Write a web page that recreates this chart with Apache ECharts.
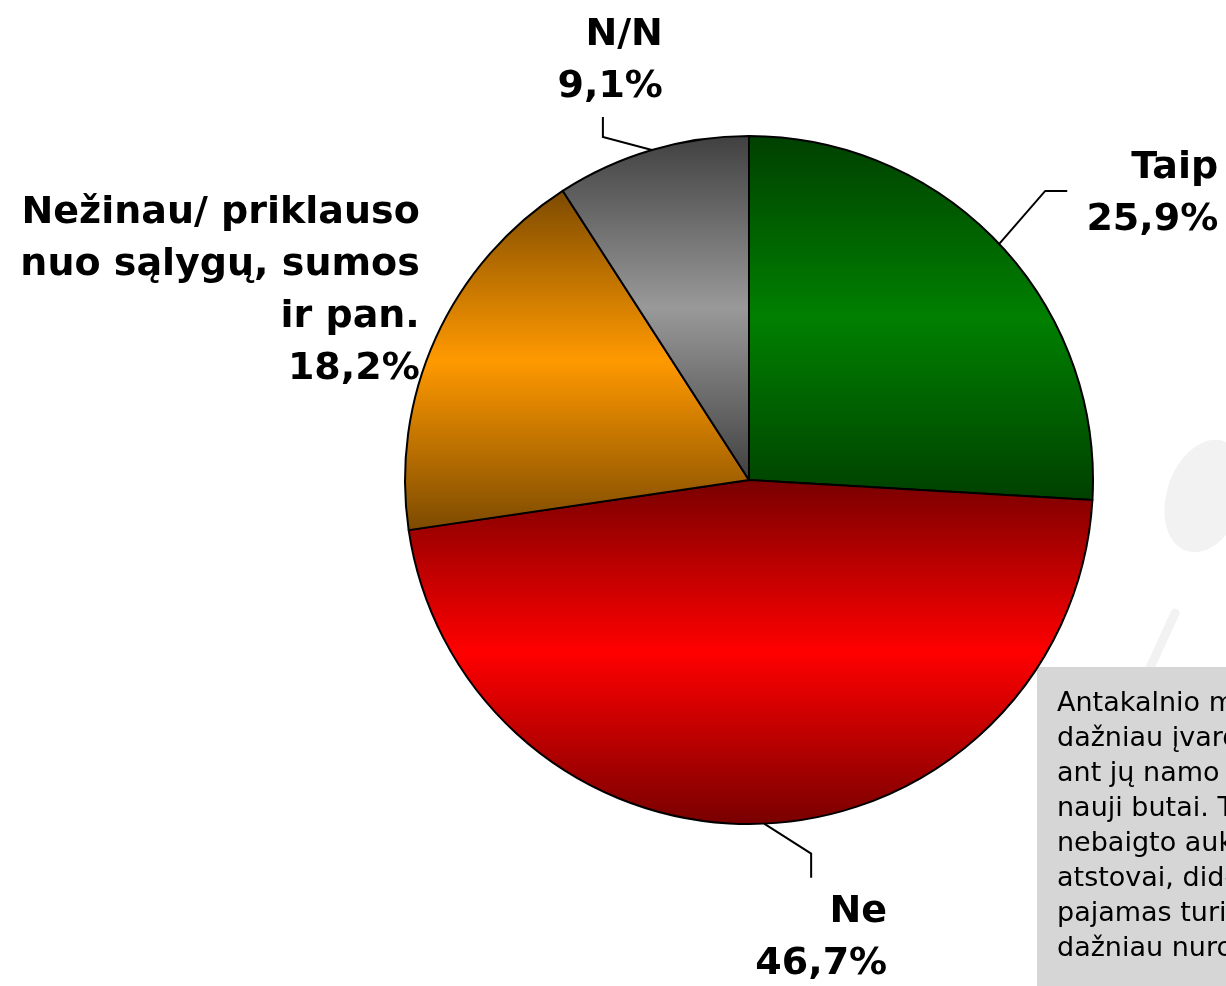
<!DOCTYPE html>
<html>
<head>
<meta charset="utf-8">
<title>Pie</title>
<script src="https://cdn.jsdelivr.net/npm/echarts@6/dist/echarts.min.js"></script>
<style>
  html, body { margin: 0; padding: 0; background: #fff; overflow: hidden; }
  #chart { width: 1226px; height: 986px; }
</style>
</head>
<body>
<div id="chart"></div>
<script>
// atsakymai ir procentai
const categories = ['Taip', 'Ne', 'Nežinau/ priklauso\nnuo sąlygų, sumos\nir pan.', 'N/N']
const percents = [25.9, 46.7, 18.2, 9.1]

// gradiento spalvos: kraštas / vidurys
const sliceColors = [
  ['#004000', '#008000'],
  ['#780000', '#ff0000'],
  ['#7c4a00', '#ff9900'],
  ['#404040', '#999999'],
]

// etikečių vieta nuo linijos pradžios ant apskritimo krašto (viršutinis kraštas)
const labelPlace = [
  { dx: 219, dy: -102, line: [[46, -53], [68, -53]] },
  { dx: 123, dy: 62, line: [[47, 30], [47, 54]] },
  { dx: -16, dy: -151, line: null },
  { dx: 11, dy: -141, line: [[-49, -13], [-49, -33]] },
]

// komentaro tekstas (nukirstas dešiniajame krašte)
const noteLines = [
  'Antakalnio mikrorajono',
  'dažniau įvardijo, kad',
  'ant jų namo',
  'nauji butai. Tai',
  'nebaigto aukštojo',
  'atstovai, didesnes',
  'pajamas turintys',
  'dažniau nurodė',
]

const center = [749, 480]
const radius = 344

// taškas ant krašto ties skilties viduriu (pradžia viršuje, pagal laikrodžio rodyklę)
function rimPoint(i) {
  const total = percents.reduce((s, v) => s + v, 0)
  let before = 0
  for (let k = 0; k < i; k++) before += percents[k]
  const ang = ((before + percents[i] / 2) / total) * Math.PI * 2
  return [center[0] + radius * Math.sin(ang), center[1] - radius * Math.cos(ang)]
}

const chart = echarts.init(document.getElementById('chart'))

function render() {
  const data = categories.map((name, i) => ({
    name: name,
    value: percents[i],
    itemStyle: {
      color: new echarts.graphic.LinearGradient(0, 0, 0, 1, [
        { offset: 0, color: sliceColors[i][0] },
        { offset: 0.5, color: sliceColors[i][1] },
        { offset: 1, color: sliceColors[i][0] },
      ]),
    },
  }))

  const option = {
    animation: false,
    backgroundColor: '#ffffff',
    graphic: [
      // blankus fono ženklas
      {
        type: 'ellipse',
        shape: { cx: 0, cy: 0, rx: 38, ry: 58 },
        x: 1205,
        y: 496,
        rotation: -0.33,
        style: { fill: '#f2f2f2' },
        z: 0,
      },
      {
        type: 'line',
        shape: { x1: 1175, y1: 613, x2: 1150, y2: 668 },
        style: { stroke: '#f2f2f2', lineWidth: 9, lineCap: 'round' },
        z: 0,
      },
      {
        type: 'rect',
        shape: { x: 1037, y: 667, width: 200, height: 330 },
        style: { fill: '#d6d6d6' },
        z: 1,
      },
      {
        type: 'text',
        x: 1057,
        y: 686,
        style: {
          text: noteLines.join('\n'),
          fontFamily: 'DejaVu Sans',
          fontSize: 27,
          lineHeight: 35,
          fill: '#000',
        },
        z: 2,
      },
    ],
    series: [
      {
        type: 'pie',
        // apatinė etiketė išeina už kraštų, todėl sritis ištęsta žemyn
        left: 0,
        top: 0,
        right: 0,
        bottom: -200,
        center: center,
        radius: radius,
        startAngle: 90,
        clockwise: true,
        avoidLabelOverlap: false,
        itemStyle: { borderColor: '#000', borderWidth: 2 },
        label: {
          show: true,
          position: 'outside',
          formatter: (p) => p.name + '\n' + String(p.value).replace('.', ',') + '%',
          fontFamily: 'DejaVu Sans',
          fontWeight: 'bold',
          fontSize: 38,
          lineHeight: 52,
          color: '#000',
        },
        labelLine: {
          show: true,
          length: 20,
          length2: 20,
          lineStyle: { color: '#000', width: 2 },
        },
        labelLayout: function (params) {
          const place = labelPlace[params.dataIndex]
          const a = rimPoint(params.dataIndex)
          const line = [a].concat(
            place.line ? place.line.map((d) => [a[0] + d[0], a[1] + d[1]]) : [a]
          )
          return {
            x: a[0] + place.dx,
            y: a[1] + place.dy,
            align: 'right',
            verticalAlign: 'top',
            labelLinePoints: line,
          }
        },
        emphasis: { disabled: true },
        data: data,
      },
    ],
  }
  chart.setOption(option)
}

render()
</script>
</body>
</html>
